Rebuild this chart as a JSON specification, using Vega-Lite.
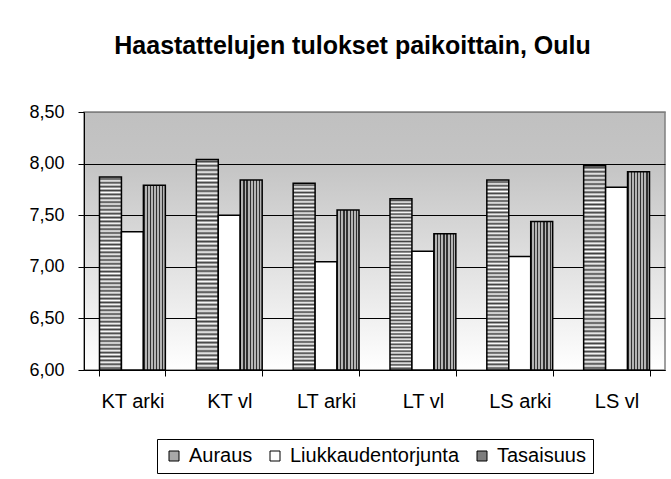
{
  "$schema": "https://vega.github.io/schema/vega-lite/v6.json",
  "width": 581,
  "height": 258,
  "autosize": {"type": "none"},
  "padding": {"left": 84, "top": 112, "right": 6, "bottom": 109},
  "background": "white",
  "title": {
    "text": "Haastattelujen tulokset paikoittain, Oulu",
    "fontSize": 25,
    "fontWeight": "bold",
    "font": "Liberation Sans",
    "color": "black",
    "anchor": "middle",
    "dx": -22,
    "offset": 44
  },
  "data": {
    "values": [
      {"paikka": "KT arki", "sarja": "Auraus", "arvo": 7.87},
      {"paikka": "KT arki", "sarja": "Liukkaudentorjunta", "arvo": 7.34},
      {"paikka": "KT arki", "sarja": "Tasaisuus", "arvo": 7.79},
      {"paikka": "KT vl", "sarja": "Auraus", "arvo": 8.04},
      {"paikka": "KT vl", "sarja": "Liukkaudentorjunta", "arvo": 7.50},
      {"paikka": "KT vl", "sarja": "Tasaisuus", "arvo": 7.84},
      {"paikka": "LT arki", "sarja": "Auraus", "arvo": 7.81},
      {"paikka": "LT arki", "sarja": "Liukkaudentorjunta", "arvo": 7.05},
      {"paikka": "LT arki", "sarja": "Tasaisuus", "arvo": 7.55},
      {"paikka": "LT vl", "sarja": "Auraus", "arvo": 7.66},
      {"paikka": "LT vl", "sarja": "Liukkaudentorjunta", "arvo": 7.15},
      {"paikka": "LT vl", "sarja": "Tasaisuus", "arvo": 7.32},
      {"paikka": "LS arki", "sarja": "Auraus", "arvo": 7.84},
      {"paikka": "LS arki", "sarja": "Liukkaudentorjunta", "arvo": 7.10},
      {"paikka": "LS arki", "sarja": "Tasaisuus", "arvo": 7.44},
      {"paikka": "LS vl", "sarja": "Auraus", "arvo": 7.98},
      {"paikka": "LS vl", "sarja": "Liukkaudentorjunta", "arvo": 7.77},
      {"paikka": "LS vl", "sarja": "Tasaisuus", "arvo": 7.92}
    ]
  },
  "mark": {"type": "bar", "stroke": "black", "strokeWidth": 1.5, "opacity": 1, "fillOpacity": 1},
  "encoding": {
    "x": {
      "field": "paikka",
      "type": "nominal",
      "sort": ["KT arki", "KT vl", "LT arki", "LT vl", "LS arki", "LS vl"],
      "scale": {"paddingInner": 0.32, "paddingOuter": 0.16},
      "axis": {
        "title": null,
        "labelAngle": 0,
        "labelFontSize": 20,
        "labelColor": "black",
        "labelPadding": 15,
        "domainColor": "black",
        "domainWidth": 1,
        "tickColor": "black",
        "tickSize": 6,
        "tickBand": "extent",
        "grid": false
      }
    },
    "xOffset": {
      "field": "sarja",
      "type": "nominal",
      "sort": ["Auraus", "Liukkaudentorjunta", "Tasaisuus"],
      "scale": {"paddingInner": 0, "paddingOuter": 0}
    },
    "y": {
      "field": "arvo",
      "type": "quantitative",
      "scale": {"domain": [6, 8.5], "zero": false, "nice": false},
      "axis": {
        "title": null,
        "values": [6, 6.5, 7, 7.5, 8, 8.5],
        "labelExpr": "replace(format(datum.value, '.2f'), '.', ',')",
        "labelFontSize": 18,
        "labelColor": "black",
        "labelPadding": 14,
        "domainColor": "black",
        "tickColor": "black",
        "tickSize": 6,
        "grid": true,
        "gridColor": {"condition": {"test": "datum.value >= 8.5", "value": "#808080"}, "value": "black"},
        "gridOpacity": 1
      }
    },
    "y2": {"datum": 6},
    "fill": {
      "field": "sarja",
      "type": "nominal",
      "sort": ["Auraus", "Liukkaudentorjunta", "Tasaisuus"],
      "condition": [
        {
          "test": "datum.sarja === 'Tasaisuus'",
          "value": {
            "gradient": "linear",
            "x1": 0, "y1": 0, "x2": 1, "y2": 0,
            "stops": [
              {"offset": 0, "color": "#303030"},
              {"offset": 0.0571, "color": "#303030"},
              {"offset": 0.0571, "color": "#b4b4b4"},
              {"offset": 0.1429, "color": "#b4b4b4"},
              {"offset": 0.1429, "color": "#303030"},
              {"offset": 0.2, "color": "#303030"},
              {"offset": 0.2, "color": "#b4b4b4"},
              {"offset": 0.2857, "color": "#b4b4b4"},
              {"offset": 0.2857, "color": "#303030"},
              {"offset": 0.3429, "color": "#303030"},
              {"offset": 0.3429, "color": "#b4b4b4"},
              {"offset": 0.4286, "color": "#b4b4b4"},
              {"offset": 0.4286, "color": "#303030"},
              {"offset": 0.4857, "color": "#303030"},
              {"offset": 0.4857, "color": "#b4b4b4"},
              {"offset": 0.5714, "color": "#b4b4b4"},
              {"offset": 0.5714, "color": "#303030"},
              {"offset": 0.6286, "color": "#303030"},
              {"offset": 0.6286, "color": "#b4b4b4"},
              {"offset": 0.7143, "color": "#b4b4b4"},
              {"offset": 0.7143, "color": "#303030"},
              {"offset": 0.7714, "color": "#303030"},
              {"offset": 0.7714, "color": "#b4b4b4"},
              {"offset": 0.8571, "color": "#b4b4b4"},
              {"offset": 0.8571, "color": "#303030"},
              {"offset": 0.9143, "color": "#303030"},
              {"offset": 0.9143, "color": "#b4b4b4"},
              {"offset": 1, "color": "#b4b4b4"}
            ]
          }
        },
        {
          "test": "datum.sarja === 'Auraus'",
          "value": {
            "gradient": "linear",
            "x1": 0, "y1": 0, "x2": 0, "y2": 1,
            "stops": [
              {"offset": 0.00, "color": "#ffffff"}, {"offset": 0.01, "color": "#404040"},
              {"offset": 0.02, "color": "#ffffff"}, {"offset": 0.03, "color": "#404040"},
              {"offset": 0.04, "color": "#ffffff"}, {"offset": 0.05, "color": "#404040"},
              {"offset": 0.06, "color": "#ffffff"}, {"offset": 0.07, "color": "#404040"},
              {"offset": 0.08, "color": "#ffffff"}, {"offset": 0.09, "color": "#404040"},
              {"offset": 0.10, "color": "#ffffff"}, {"offset": 0.11, "color": "#404040"},
              {"offset": 0.12, "color": "#ffffff"}, {"offset": 0.13, "color": "#404040"},
              {"offset": 0.14, "color": "#ffffff"}, {"offset": 0.15, "color": "#404040"},
              {"offset": 0.16, "color": "#ffffff"}, {"offset": 0.17, "color": "#404040"},
              {"offset": 0.18, "color": "#ffffff"}, {"offset": 0.19, "color": "#404040"},
              {"offset": 0.20, "color": "#ffffff"}, {"offset": 0.21, "color": "#404040"},
              {"offset": 0.22, "color": "#ffffff"}, {"offset": 0.23, "color": "#404040"},
              {"offset": 0.24, "color": "#ffffff"}, {"offset": 0.25, "color": "#404040"},
              {"offset": 0.26, "color": "#ffffff"}, {"offset": 0.27, "color": "#404040"},
              {"offset": 0.28, "color": "#ffffff"}, {"offset": 0.29, "color": "#404040"},
              {"offset": 0.30, "color": "#ffffff"}, {"offset": 0.31, "color": "#404040"},
              {"offset": 0.32, "color": "#ffffff"}, {"offset": 0.33, "color": "#404040"},
              {"offset": 0.34, "color": "#ffffff"}, {"offset": 0.35, "color": "#404040"},
              {"offset": 0.36, "color": "#ffffff"}, {"offset": 0.37, "color": "#404040"},
              {"offset": 0.38, "color": "#ffffff"}, {"offset": 0.39, "color": "#404040"},
              {"offset": 0.40, "color": "#ffffff"}, {"offset": 0.41, "color": "#404040"},
              {"offset": 0.42, "color": "#ffffff"}, {"offset": 0.43, "color": "#404040"},
              {"offset": 0.44, "color": "#ffffff"}, {"offset": 0.45, "color": "#404040"},
              {"offset": 0.46, "color": "#ffffff"}, {"offset": 0.47, "color": "#404040"},
              {"offset": 0.48, "color": "#ffffff"}, {"offset": 0.49, "color": "#404040"},
              {"offset": 0.50, "color": "#ffffff"}, {"offset": 0.51, "color": "#404040"},
              {"offset": 0.52, "color": "#ffffff"}, {"offset": 0.53, "color": "#404040"},
              {"offset": 0.54, "color": "#ffffff"}, {"offset": 0.55, "color": "#404040"},
              {"offset": 0.56, "color": "#ffffff"}, {"offset": 0.57, "color": "#404040"},
              {"offset": 0.58, "color": "#ffffff"}, {"offset": 0.59, "color": "#404040"},
              {"offset": 0.60, "color": "#ffffff"}, {"offset": 0.61, "color": "#404040"},
              {"offset": 0.62, "color": "#ffffff"}, {"offset": 0.63, "color": "#404040"},
              {"offset": 0.64, "color": "#ffffff"}, {"offset": 0.65, "color": "#404040"},
              {"offset": 0.66, "color": "#ffffff"}, {"offset": 0.67, "color": "#404040"},
              {"offset": 0.68, "color": "#ffffff"}, {"offset": 0.69, "color": "#404040"},
              {"offset": 0.70, "color": "#ffffff"}, {"offset": 0.71, "color": "#404040"},
              {"offset": 0.72, "color": "#ffffff"}, {"offset": 0.73, "color": "#404040"},
              {"offset": 0.74, "color": "#ffffff"}, {"offset": 0.75, "color": "#404040"},
              {"offset": 0.76, "color": "#ffffff"}, {"offset": 0.77, "color": "#404040"},
              {"offset": 0.78, "color": "#ffffff"}, {"offset": 0.79, "color": "#404040"},
              {"offset": 0.80, "color": "#ffffff"}, {"offset": 0.81, "color": "#404040"},
              {"offset": 0.82, "color": "#ffffff"}, {"offset": 0.83, "color": "#404040"},
              {"offset": 0.84, "color": "#ffffff"}, {"offset": 0.85, "color": "#404040"},
              {"offset": 0.86, "color": "#ffffff"}, {"offset": 0.87, "color": "#404040"},
              {"offset": 0.88, "color": "#ffffff"}, {"offset": 0.89, "color": "#404040"},
              {"offset": 0.90, "color": "#ffffff"}, {"offset": 0.91, "color": "#404040"},
              {"offset": 0.92, "color": "#ffffff"}, {"offset": 0.93, "color": "#404040"},
              {"offset": 0.94, "color": "#ffffff"}, {"offset": 0.95, "color": "#404040"},
              {"offset": 0.96, "color": "#ffffff"}, {"offset": 0.97, "color": "#404040"},
              {"offset": 0.98, "color": "#ffffff"}, {"offset": 0.99, "color": "#404040"},
              {"offset": 1.00, "color": "#ffffff"}
            ]
          }
        }
      ],
      "scale": {
        "domain": ["Auraus", "Liukkaudentorjunta", "Tasaisuus"],
        "range": ["#a8a8a8", "#ffffff", "#7d7d7d"]
      },
      "legend": {
        "title": null,
        "orient": "none",
        "legendX": 73,
        "legendY": 327,
        "direction": "horizontal",
        "symbolType": "square",
        "symbolSize": 100,
        "symbolStrokeColor": "black",
        "symbolStrokeWidth": 1,
        "symbolOpacity": 1,
        "labelFontSize": 20,
        "labelLimit": 400,
        "labelColor": "black",
        "labelOffset": 5,
        "columnPadding": 12,
        "strokeColor": "black",
        "fillColor": "white",
        "padding": 7
      }
    }
  },
  "config": {
    "font": "Liberation Sans",
    "view": {
      "stroke": "#808080",
      "strokeWidth": 1.5,
      "fill": {
        "gradient": "linear",
        "x1": 0, "y1": 0, "x2": 0, "y2": 1,
        "stops": [
          {"offset": 0, "color": "#c0c0c0"},
          {"offset": 0.2, "color": "#c4c4c4"},
          {"offset": 1, "color": "#ffffff"}
        ]
      }
    }
  }
}
